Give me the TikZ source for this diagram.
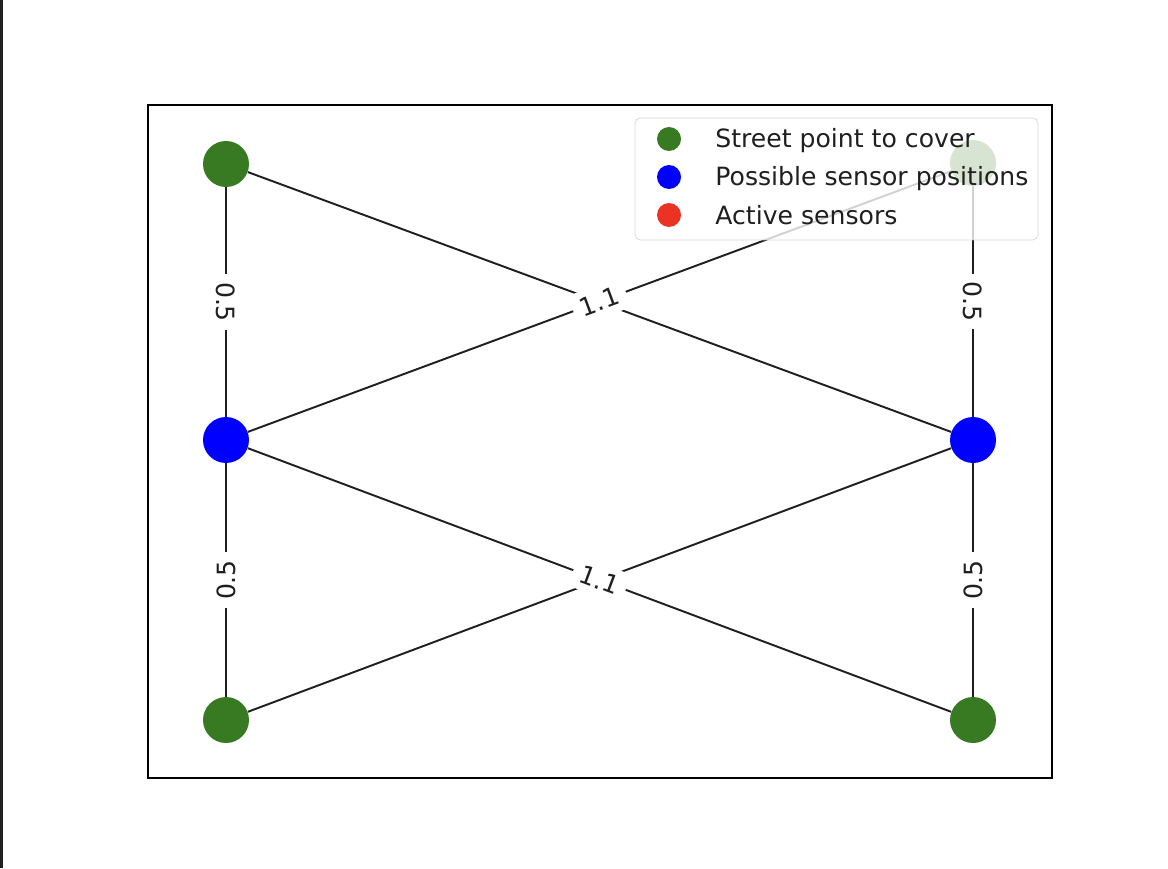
\documentclass[tikz,border=0pt]{standalone}
\usepackage{fontspec}
\setmainfont{DejaVu Sans}
\definecolor{streetgreen}{RGB}{55,122,34}
\definecolor{activered}{RGB}{234,51,35}
\begin{document}
\begin{tikzpicture}[x=0.02cm,y=-0.02cm,
	every node/.style={font=\fontsize{14.3}{17}\selectfont},
	street/.style={circle,fill=streetgreen,minimum size=0.92cm,inner sep=0pt},
	sensor/.style={circle,fill=blue,minimum size=0.92cm,inner sep=0pt},
	edge/.style={line width=1.1pt,black!88},
	weight/.style={fill=white,inner xsep=4.5pt,inner ysep=4pt},
	marker/.style={circle,minimum size=0.48cm,inner sep=0pt},
	entry/.style={anchor=base west,inner sep=0pt,text=black!88},
]
\useasboundingbox (0,0) rectangle (1168,868);
\fill[black!88] (0,0) rectangle (2.5,868);

%Axes frame
\draw[line width=0.9pt] (148,105) rectangle (1052,778);

%Street points
\node [street] (tl) at (226,164) {};
\node [street] (tr) at (973,163) {};
\node [street] (bl) at (226,720) {};
\node [street] (br) at (973,720) {};

%Sensor positions
\node [sensor] (ls) at (226,440) {};
\node [sensor] (rs) at (973,440) {};

%Edges
\draw[edge] (tl) -- node[weight,rotate=-90] {0.5} (ls);
\draw[edge] (tr) -- node[weight,rotate=-90] {0.5} (rs);
\draw[edge] (ls) -- node[weight,rotate=90] {0.5} (bl);
\draw[edge] (rs) -- node[weight,rotate=90] {0.5} (br);
\draw[edge] (tl) -- (rs);
\draw[edge] (rs) -- (bl);
\draw[edge] (ls) -- node[weight,sloped] {1.1} (tr);
\draw[edge] (ls) -- node[weight,sloped] {1.1} (br);

%Legend
\node [draw=black!20, fill=white, fill opacity=0.8, draw opacity=0.8,
	rounded corners=3pt,
	minimum width=8.06cm,
	minimum height=2.44cm,
]  (legend) at (836.5,179) {};
\node [marker,fill=streetgreen] (streetmark) at (669,139) {};
\node [marker,fill=blue] (sensormark) at (669,177) {};
\node [marker,fill=activered] (activemark) at (669,215) {};
\node [entry] (streettext) at (715,148) {Street point to cover};
\node [entry] (sensortext) at (715,186) {Possible sensor positions};
\node [entry] (activetext) at (715,224) {Active sensors};

\end{tikzpicture}
\end{document}
